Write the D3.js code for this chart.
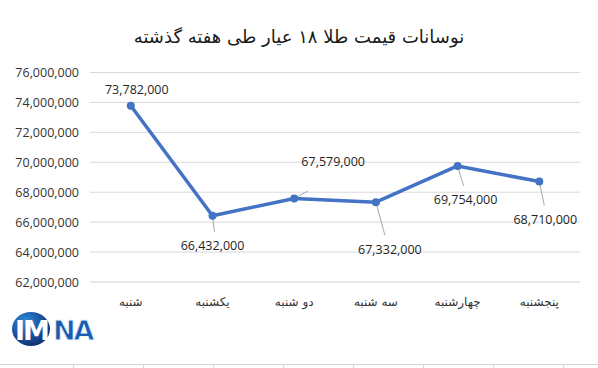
<!DOCTYPE html>
<html><head><meta charset="utf-8">
<script src="https://cdn.jsdelivr.net/npm/d3@7/dist/d3.min.js"></script>
<style>
body{margin:0;background:#fff;}
svg{display:block;}
</style></head>
<body>
<svg id="c" width="598" height="368"></svg>
<script>
const title = "نوسانات قیمت طلا ۱۸ عیار طی هفته گذشته";
const categories = ["شنبه","یکشنبه","دو شنبه","سه شنبه","چهارشنبه","پنجشنبه"];
const values = [73782000,66432000,67579000,67332000,69754000,68710000];
const yTicks = [62000000,64000000,66000000,68000000,70000000,72000000,74000000,76000000];
// label offsets relative to point (dx, dy of label center), leader line if any
const labelOffsets = [[6,-16,false],[0,30,true],[39,-37,true],[14,47,true],[8,34,true],[6,38,true]];

const svg = d3.select("#c");
const x = d3.scalePoint().domain(categories).range([130.8,539.3]);
const y = d3.scaleLinear().domain([62000000,76000000]).range([282,72.5]);
const fmt = d3.format(",");

svg.append("text").attr("x",299).attr("y",43).attr("text-anchor","middle")
  .attr("font-family","DejaVu Sans").attr("font-size",18).attr("fill","#1a1a1a")
  .attr("direction","rtl").text(title);

// gridlines
svg.append("g").selectAll("line").data(yTicks).join("line")
  .attr("x1",90).attr("x2",580).attr("y1",d=>y(d)).attr("y2",d=>y(d))
  .attr("stroke",d=>d===62000000?"#d0d0d0":"#d9d9d9").attr("stroke-width",1);

svg.append("g").selectAll("text").data(yTicks).join("text")
  .attr("x",79).attr("y",d=>y(d)+4.5).attr("text-anchor","end")
  .attr("font-family","Open Sans, Noto Sans, sans-serif").attr("font-size",12.5).attr("fill","#333")
  .text(d=>fmt(d));

svg.append("g").selectAll("text").data(categories).join("text")
  .attr("x",d=>x(d)).attr("y",306).attr("text-anchor","middle")
  .attr("font-family","DejaVu Sans").attr("font-size",12).attr("fill","#333")
  .attr("direction","rtl").text(d=>d);

// leader lines
const pts = categories.map((c,i)=>({c,v:values[i],o:labelOffsets[i]}));
svg.append("g").selectAll("line").data(pts.filter(p=>p.o[2])).join("line")
  .attr("x1",p=>x(p.c)).attr("y1",p=>y(p.v))
  .attr("x2",p=>x(p.c)+ (p.o[1]<0? p.o[0]*0.35 : p.o[0]*0.5+2))
  .attr("y2",p=>y(p.v)+ (p.o[1]<0? p.o[1]*0.2 : p.o[1]-14))
  .attr("stroke","#a6a6a6").attr("stroke-width",1);

svg.append("path").datum(pts)
  .attr("d",d3.line().x(p=>x(p.c)).y(p=>y(p.v)))
  .attr("fill","none").attr("stroke","#4472C4").attr("stroke-width",3.5).attr("stroke-linejoin","round");

svg.append("g").selectAll("circle").data(pts).join("circle")
  .attr("cx",p=>x(p.c)).attr("cy",p=>y(p.v)).attr("r",4).attr("fill","#4472C4");

svg.append("g").selectAll("text").data(pts).join("text")
  .attr("x",p=>x(p.c)+p.o[0]).attr("y",p=>y(p.v)+p.o[1]+4.5).attr("text-anchor","middle")
  .attr("font-family","Open Sans, Noto Sans, sans-serif").attr("font-size",12.5).attr("fill","#1f1f1f")
  .text(p=>fmt(p.v));

// sheet cell borders at bottom
svg.append("line").attr("x1",0).attr("x2",598).attr("y1",364.5).attr("y2",364.5).attr("stroke","#d4d4d4");
svg.append("g").selectAll("line").data([73,143,213,283,353,423,493,563]).join("line")
  .attr("x1",d=>d+0.5).attr("x2",d=>d+0.5).attr("y1",364).attr("y2",368).attr("stroke","#d4d4d4");

// logo
const defs = svg.append("defs");
const g1 = defs.append("radialGradient").attr("id","lg").attr("cx","35%").attr("cy","30%").attr("r","75%");
g1.append("stop").attr("offset","0%").attr("stop-color","#2f8fd8");
g1.append("stop").attr("offset","60%").attr("stop-color","#1a4f9c");
g1.append("stop").attr("offset","100%").attr("stop-color","#0f2f70");
const logo = svg.append("g");
logo.append("ellipse").attr("cx",31).attr("cy",329).attr("rx",19).attr("ry",17).attr("fill","url(#lg)");
logo.append("text").attr("x",15).attr("y",340).attr("font-family","DejaVu Sans").attr("font-weight","bold")
  .attr("font-size",27).attr("fill","#fff").attr("letter-spacing",-2).text("IM");
logo.append("text").attr("x",53).attr("y",340).attr("font-family","DejaVu Sans").attr("font-weight","bold")
  .attr("font-size",27).attr("fill","#1a5cb0").attr("stroke","#eaf2fb").attr("stroke-width",1).attr("letter-spacing",-2).text("NA");
</script>
</body></html>
